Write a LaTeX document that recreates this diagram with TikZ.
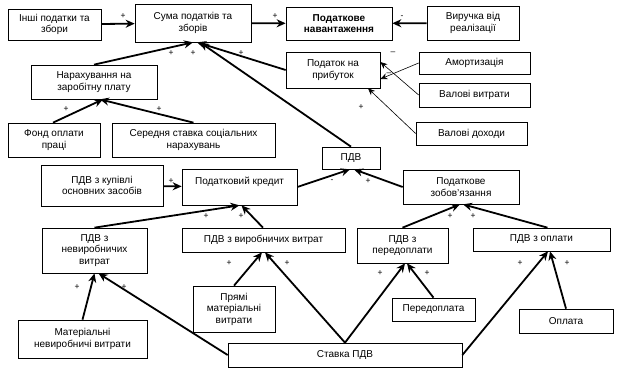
\documentclass[tikz,border=0pt]{standalone}
\usepackage{fontspec}
\setmainfont{Liberation Sans}
\usetikzlibrary{arrows.meta}
\tikzset{
  box/.style={draw,line width=0.7pt,align=center,inner sep=1pt,font=\fontsize{10}{11.5}\selectfont},
  thickarr/.style={line width=1.8pt,-{Stealth[length=9pt,width=8pt]}},
  thinarr/.style={line width=0.6pt,-{Stealth[length=7pt,width=6pt]}},
  sign/.style={inner sep=0pt,font=\fontsize{8.5}{8.5}\selectfont}
}
\begin{document}
\begin{tikzpicture}[x=1pt,y=-1pt]
\useasboundingbox (0,0) rectangle (620,370);
% top row
\node[box,minimum width=93pt,minimum height=31pt] (inshi) at (54.5,24.5) {Інші податки та\\збори};
\node[box,minimum width=116pt,minimum height=38pt] (suma) at (193,23) {Сума податків та\\зборів};
\node[box,minimum width=106pt,minimum height=33pt,font=\fontsize{10}{11.5}\selectfont\bfseries] (navant) at (339,23.5) {Податкове\\навантаження};
\node[box,minimum width=92pt,minimum height=34pt] (vyruchka) at (473,23) {Виручка від\\реалізації};
% podatok na prybutok
\node[box,minimum width=94pt,minimum height=36pt] (prybutok) at (333,70) {Податок на\\прибуток};
\node[box,minimum width=111pt,minimum height=22pt] (amort) at (474.5,63) {Амортизація};
\node[box,minimum width=111pt,minimum height=24pt] (vytraty) at (474.5,95) {Валові витрати};
\node[box,minimum width=111pt,minimum height=23pt] (dokhody) at (471.5,133.5) {Валові доходи};
% narakhuvannia
\node[box,minimum width=126pt,minimum height=34pt] (narakh) at (94,82) {Нарахування на\\заробітну плату};
\node[box,minimum width=92pt,minimum height=34pt] (fond) at (54,140) {Фонд оплати\\праці};
\node[box,minimum width=163pt,minimum height=34pt] (serednia) at (193.5,140) {Середня ставка соціальних\\нарахувань};
% PDV
\node[box,minimum width=58pt,minimum height=22pt] (pdv) at (351,158) {ПДВ};
\node[box,minimum width=122pt,minimum height=41pt] (kupivli) at (102,185.5) {ПДВ з купівлі\\основних засобів};
\node[box,minimum width=115pt,minimum height=36pt] (kredyt) at (239.5,187) {Податковий кредит\\\mbox{}};
\node[box,minimum width=116pt,minimum height=34pt] (zobov) at (461,187) {Податкове\\зобов’язання};
\node[box,minimum width=105pt,minimum height=45pt] (nevyrob) at (94.5,250.5) {ПДВ з\\невиробничих\\витрат};
\node[box,minimum width=163pt,minimum height=24pt] (vyrob) at (263.5,240) {ПДВ з виробничих витрат};
\node[box,minimum width=91pt,minimum height=35pt] (peredopl) at (402.5,245.5) {ПДВ з\\передоплати};
\node[box,minimum width=137pt,minimum height=23pt] (oplaty) at (541.5,239.5) {ПДВ з оплати};
% bottom
\node[box,minimum width=82pt,minimum height=46pt] (priami) at (234,309) {Прямі\\матеріальні\\витрати};
\node[box,minimum width=129pt,minimum height=38pt] (materialni) at (82.5,339) {Матеріальні\\невиробничі витрати};
\node[box,minimum width=83pt,minimum height=23pt] (peredoplata) at (433.5,309.5) {Передоплата};
\node[box,minimum width=94pt,minimum height=24pt] (oplata) at (566,321) {Оплата};
\node[box,minimum width=234pt,minimum height=24pt] (stavka) at (345,355) {Ставка ПДВ};
% arrows
\draw[thickarr] (inshi) -- (suma);
\draw[thickarr] (suma) -- (navant);
\draw[thickarr] (vyruchka) -- (navant);
\draw[thinarr] (amort.west) -- ([yshift=-9pt]prybutok.east);
\draw[thinarr] (vytraty.west) -- ([yshift=8pt]prybutok.east);
\draw[thinarr] (dokhody.west) -- ([xshift=35pt]prybutok.south);
\draw[thickarr] (prybutok.west) -- ([xshift=4pt]suma.south);
\draw[thickarr] (narakh.north) -- ([xshift=0pt]suma.south);
\draw[thickarr] (pdv.north) -- ([xshift=7pt]suma.south);
\draw[thickarr] ([xshift=-1pt]fond.north) -- ([xshift=9pt]narakh.south);
\draw[thickarr] (serednia.north) -- ([xshift=6pt]narakh.south);
\draw[thickarr] (kupivli) -- (kredyt);
\draw[thickarr] (kredyt.east) -- ([xshift=-1pt]pdv.south);
\draw[thickarr] (zobov.west) -- ([xshift=3pt]pdv.south);
\draw[thickarr] (nevyrob.north) -- ([xshift=0pt]kredyt.south);
\draw[thickarr] ([xshift=-0.5pt]vyrob.north) -- ([xshift=2pt]kredyt.south);
\draw[thickarr] (peredopl.north) -- ([xshift=-1pt]zobov.south);
\draw[thickarr] ([xshift=6pt]oplaty.north) -- ([xshift=2pt]zobov.south);
\draw[thickarr] (materialni.north) -- ([xshift=0pt]nevyrob.south);
\draw[thickarr] (stavka.west) -- ([xshift=4pt]nevyrob.south);
\draw[thickarr] (priami.north) -- ([xshift=-1.5pt]vyrob.south);
\draw[thickarr] (stavka.north) -- ([xshift=1.5pt]vyrob.south);
\draw[thickarr] (stavka.north) -- ([xshift=2.5pt]peredopl.south);
\draw[thickarr] (peredoplata.north) -- ([xshift=4.5pt]peredopl.south);
\draw[thickarr] (stavka.east) -- ([xshift=6.5pt]oplaty.south);
\draw[thickarr] (oplata.north) -- ([xshift=8.5pt]oplaty.south);
% signs
\node[sign] (s1) at (123,16) {+};
\node[sign] (s2) at (275,16) {+};
\node[sign] (s3) at (402,17) {-};
\node[sign] (s4) at (393,53) {–};
\node[sign] (s5) at (389,74) {–};
\node[sign] (s6) at (361,107) {+};
\node[sign] (s7) at (171,53) {+};
\node[sign] (s8) at (193,53) {+};
\node[sign] (s9) at (241,53) {+};
\node[sign] (s10) at (66,109) {+};
\node[sign] (s11) at (159,109) {+};
\node[sign] (s12) at (171,181) {+};
\node[sign] (s13) at (332,181) {-};
\node[sign] (s14) at (368,181) {+};
\node[sign] (s15) at (206,216) {+};
\node[sign] (s16) at (241,216) {+};
\node[sign] (s17) at (450,216) {+};
\node[sign] (s18) at (473,216) {+};
\node[sign] (s19) at (77,287) {+};
\node[sign] (s20) at (124,287) {+};
\node[sign] (s21) at (229,263) {+};
\node[sign] (s22) at (287,263) {+};
\node[sign] (s23) at (380,273) {+};
\node[sign] (s24) at (427,273) {+};
\node[sign] (s25) at (520,263) {+};
\node[sign] (s26) at (567,263) {+};
\end{tikzpicture}
\end{document}
